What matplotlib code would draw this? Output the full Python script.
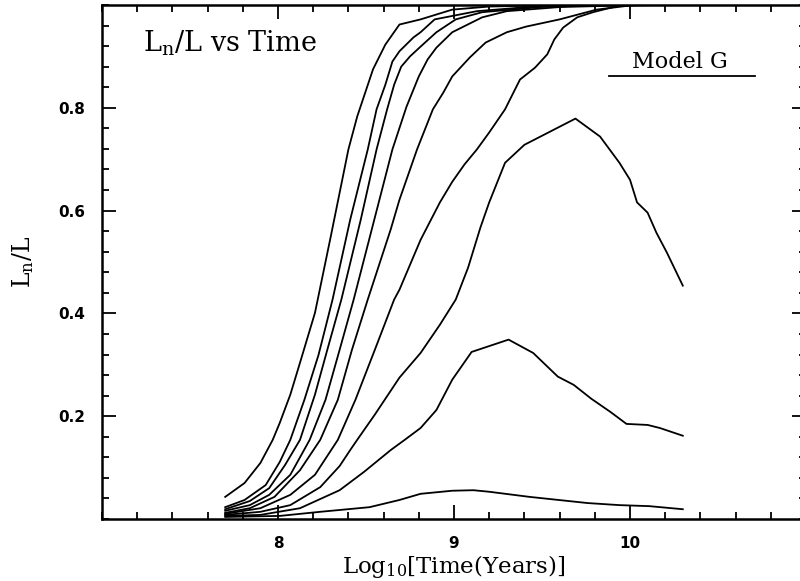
import matplotlib
matplotlib.use("Agg")
import matplotlib.pyplot as plt
from matplotlib.ticker import MultipleLocator, FixedLocator

plt.rcParams["mathtext.fontset"] = "dejavuserif"

# ---- data ----
c1_x = [7.70, 7.81, 7.90, 7.97, 8.01, 8.07, 8.125, 8.21, 8.30, 8.40, 8.45, 8.54, 8.61, 8.69, 8.81, 8.99, 9.20, 9.60]
c1_y = [0.043, 0.070, 0.109, 0.154, 0.187, 0.242, 0.304, 0.401, 0.550, 0.719, 0.783, 0.875, 0.923, 0.962, 0.972, 0.991, 0.997, 1.000]

c2_x = [7.70, 7.81, 7.93, 8.01, 8.07, 8.15, 8.23, 8.31, 8.41, 8.51, 8.56, 8.61, 8.65, 8.69, 8.77, 8.81, 8.89, 9.13, 9.49, 9.94]
c2_y = [0.023, 0.037, 0.066, 0.111, 0.154, 0.232, 0.319, 0.427, 0.582, 0.719, 0.797, 0.845, 0.890, 0.910, 0.937, 0.947, 0.972, 0.988, 0.998, 1.000]

c3_x = [7.70, 7.84, 7.95, 8.04, 8.125, 8.21, 8.28, 8.36, 8.47, 8.56, 8.62, 8.66, 8.70, 8.75, 8.81, 8.90, 9.01, 9.16, 9.49, 9.83]
c3_y = [0.019, 0.035, 0.060, 0.105, 0.154, 0.242, 0.329, 0.427, 0.582, 0.719, 0.797, 0.845, 0.880, 0.900, 0.919, 0.947, 0.972, 0.986, 0.996, 1.000]

c4_x = [7.70, 7.84, 7.95, 8.07, 8.18, 8.27, 8.35, 8.43, 8.54, 8.65, 8.73, 8.80, 8.85, 8.90, 8.99, 9.16, 9.30, 9.60, 10.06]
c4_y = [0.016, 0.027, 0.047, 0.086, 0.154, 0.232, 0.329, 0.427, 0.573, 0.719, 0.802, 0.861, 0.894, 0.917, 0.947, 0.976, 0.988, 0.996, 1.000]

c5_x = [7.70, 7.84, 7.98, 8.125, 8.24, 8.34, 8.42, 8.51, 8.64, 8.69, 8.79, 8.88, 8.94, 8.99, 9.09, 9.18, 9.30, 9.41, 9.60, 9.81, 10.00, 10.17]
c5_y = [0.012, 0.021, 0.043, 0.095, 0.154, 0.232, 0.329, 0.427, 0.563, 0.621, 0.719, 0.797, 0.830, 0.861, 0.898, 0.927, 0.947, 0.958, 0.972, 0.991, 0.999, 1.000]

c6_x = [7.70, 7.90, 8.07, 8.21, 8.34, 8.44, 8.55, 8.66, 8.69, 8.81, 8.92, 8.99, 9.06, 9.13, 9.20, 9.29, 9.375, 9.46, 9.53, 9.57, 9.62, 9.70, 9.79, 9.94, 10.06]
c6_y = [0.010, 0.021, 0.047, 0.086, 0.154, 0.232, 0.329, 0.427, 0.446, 0.543, 0.616, 0.656, 0.690, 0.719, 0.752, 0.797, 0.855, 0.878, 0.904, 0.933, 0.956, 0.976, 0.986, 0.999, 1.000]

c7_x = [7.70, 7.90, 8.07, 8.24, 8.35, 8.41, 8.45, 8.55, 8.69, 8.81, 8.92, 9.01, 9.08, 9.15, 9.20, 9.29, 9.40, 9.69, 9.83, 9.94, 10.00, 10.04, 10.10, 10.15, 10.21, 10.30]
c7_y = [0.008, 0.014, 0.027, 0.062, 0.103, 0.134, 0.154, 0.203, 0.275, 0.323, 0.378, 0.427, 0.489, 0.567, 0.616, 0.693, 0.728, 0.779, 0.744, 0.693, 0.660, 0.616, 0.596, 0.557, 0.518, 0.454]

c8_x = [7.70, 7.90, 8.125, 8.35, 8.49, 8.64, 8.72, 8.81, 8.90, 8.99, 9.10, 9.31, 9.45, 9.59, 9.68, 9.78, 9.89, 9.98, 10.10, 10.17, 10.30]
c8_y = [0.006, 0.008, 0.021, 0.056, 0.092, 0.134, 0.154, 0.177, 0.212, 0.271, 0.325, 0.349, 0.323, 0.277, 0.261, 0.234, 0.208, 0.185, 0.183, 0.177, 0.162]

c9_x = [7.70, 8.01, 8.24, 8.52, 8.69, 8.81, 8.99, 9.11, 9.20, 9.43, 9.76, 9.94, 10.11, 10.30]
c9_y = [0.004, 0.006, 0.014, 0.023, 0.037, 0.049, 0.055, 0.056, 0.053, 0.043, 0.031, 0.027, 0.025, 0.019]

curves = [(c1_x, c1_y), (c2_x, c2_y), (c3_x, c3_y), (c4_x, c4_y), (c5_x, c5_y),
          (c6_x, c6_y), (c7_x, c7_y), (c8_x, c8_y), (c9_x, c9_y)]

x_ticks = [8, 9, 10]
x_tick_labels = ["8", "9", "10"]
y_ticks = [0.2, 0.4, 0.6, 0.8]
y_tick_labels = ["0.2", "0.4", "0.6", "0.8"]

# ---- figure ----
fig = plt.figure(figsize=(8.0, 5.81), dpi=100)
ax = fig.add_axes([102/800, 1 - 519/581, (806 - 102)/800, (519 - 5)/581])

for xs, ys in curves:
    ax.plot(xs, ys, color="black", lw=1.3, solid_joinstyle="round")

ax.set_xlim(7.0, 11.0)
ax.set_ylim(0.0, 1.0)

ax.xaxis.set_major_locator(FixedLocator(x_ticks))
ax.set_xticklabels(x_tick_labels)
ax.xaxis.set_minor_locator(MultipleLocator(0.2))
ax.yaxis.set_major_locator(FixedLocator(y_ticks))
ax.set_yticklabels(y_tick_labels)
ax.yaxis.set_minor_locator(MultipleLocator(0.04))

ax.tick_params(which="both", direction="in", top=True, right=True, width=1.3, color="black")
ax.tick_params(which="major", length=10, pad=12)
ax.tick_params(which="minor", length=5)
for lab in ax.get_xticklabels() + ax.get_yticklabels():
    lab.set_fontweight("bold")
    lab.set_fontsize(11)
    lab.set_family("DejaVu Sans")

for sp in ax.spines.values():
    sp.set_linewidth(1.8)

ax.set_xlabel(r"Log$_{10}$$\left[\mathrm{Time(Years)}\right]$", fontsize=16.5,
              family="DejaVu Serif", labelpad=2)
ax.set_ylabel(r"L$_\mathrm{n}$/L", fontsize=17, family="DejaVu Serif", labelpad=16)

ax.text(0.058, 0.925, r"L$_\mathrm{n}$/L vs Time", transform=ax.transAxes, fontsize=19.5,
        family="DejaVu Serif", ha="left", va="center")
ax.text(0.821, 0.889, "Model G", transform=ax.transAxes, fontsize=16,
        family="DejaVu Serif", ha="center", va="center")
ax.plot([0.720, 0.9276], [0.862, 0.862], transform=ax.transAxes, color="black", lw=1.3)

fig.savefig("out.png", dpi=100)
